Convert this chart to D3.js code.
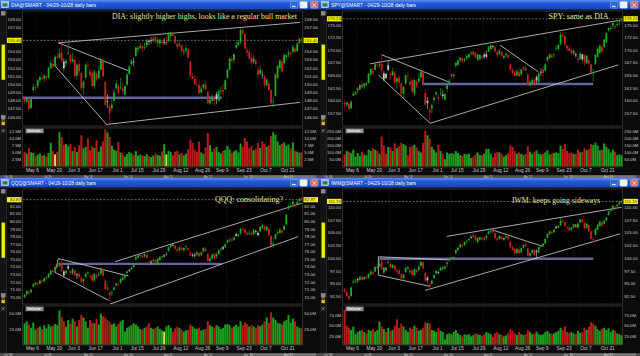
<!DOCTYPE html>
<html><head><meta charset="utf-8">
<script src="https://cdn.jsdelivr.net/npm/d3@7/dist/d3.min.js"></script>
<style>html,body{margin:0;padding:0;background:#000;overflow:hidden}svg{display:block}</style>
</head><body>
<svg id="chart" width="640" height="356"></svg>
<script>
// ---------- categories ----------
const firstDay = "2013-04-29", lastDay = "2013-10-28";
const holidays = ["2013-05-27","2013-07-04","2013-09-02"];
const tickDates = ["2013-05-06","2013-05-20","2013-06-03","2013-06-17","2013-07-01","2013-07-15","2013-07-29","2013-08-12","2013-08-26","2013-09-09","2013-09-23","2013-10-07","2013-10-21"];
const gridDates = ["2013-05-06","2013-05-28","2013-06-17","2013-07-08","2013-07-29","2013-08-19","2013-09-09","2013-09-30","2013-10-21"];
const symbols = ["DIA","SPY","QQQ","IWM"];
const titleSuffix = "@SMART - 04/29-10/28 daily bars";
const notes = ["DIA: slightly higher highs, looks like a regular bull market","SPY: same as DIA","QQQ: consolidating?","IWM: keeps going sideways"];

// ---------- price ticks ----------
const diaTicks = [146,147,148,149,150,151,152,153,154,155,156,157,158];
const spyTicks = [157.5,160,162.5,165,167.5,170,172.5,175];
const qqqTicks = [70,71,72,73,74,75,76,77,78,79,80,81,82];
const iwmTicks = [92.5,95,97.5,100,102.5,105,107.5,110];
const diaVolTicks = [2.5,5,7.5,10,12.5];
const spyVolTicks = [50,100,150,200,250];
const qqqVolTicks = [25,50];
const iwmVolTicks = [25,50,75];

// ---------- DIA [open, high, low, close] ----------
const diaOHLC = [
[148.2,148.5,147.6,147.9],[147.9,148.4,147.7,148.2],[148.1,148.2,146.8,147.0],[147.1,148.4,147.0,148.3],[149.3,150.1,149.2,149.7],
[149.7,149.9,149.3,149.6],[149.8,150.6,149.5,150.5],[150.5,151.0,150.2,150.9],[150.8,151.3,150.5,150.7],[150.7,151.2,150.3,151.1],
[151.0,151.1,150.4,150.8],[150.8,152.2,150.7,152.0],[152.0,152.9,151.9,152.6],[152.5,153.1,152.0,152.2],[152.3,153.6,152.2,153.4],
[153.4,154.0,153.0,153.3],[153.3,154.3,153.1,153.8],[153.9,155.2,152.6,152.9],[152.0,153.2,151.6,152.8],[152.6,153.1,152.2,152.9],
[153.8,155.1,153.6,153.9],[153.6,153.8,152.4,152.9],[152.8,153.9,152.7,153.1],[153.0,153.5,150.9,151.0],[151.1,152.6,150.6,152.4],
[152.5,153.0,151.0,151.6],[151.4,151.6,149.3,149.5],[149.6,150.5,148.7,150.3],[150.8,152.6,150.6,152.4],[152.4,152.9,151.9,152.3],
[151.6,152.0,150.8,151.1],[151.4,151.9,149.7,149.8],[149.8,151.8,149.4,151.6],[151.3,151.6,150.4,150.6],[150.8,152.3,150.7,151.7],
[151.8,153.3,151.7,153.0],[153.0,153.2,150.9,151.0],[150.3,150.4,147.3,147.5],[148.0,148.8,147.1,147.9],[147.3,147.6,145.1,146.5],
[147.1,148.2,146.7,147.5],[148.0,149.4,147.8,149.0],[149.5,150.6,149.4,150.1],[149.8,150.0,148.7,149.0],[149.5,150.8,149.4,149.6],
[149.5,150.2,148.8,149.2],[148.8,149.9,148.3,149.8],[150.0,151.4,149.8,151.2],[151.3,152.4,151.2,152.2],[152.5,153.1,152.3,152.9],
[152.8,153.3,152.2,152.8],[153.5,154.6,153.4,154.5],[154.3,154.7,153.9,154.5],[154.5,155.1,154.3,154.7],[154.7,154.9,154.0,154.4],
[154.5,155.1,154.2,154.6],[154.8,155.6,154.6,155.4],[155.2,155.5,154.8,155.3],[155.4,155.8,155.0,155.3],[155.4,155.9,155.2,155.6],
[155.8,156.0,155.0,155.3],[155.1,155.7,154.6,155.4],[155.0,155.6,154.5,155.5],[155.3,155.5,154.9,155.1],[155.2,155.7,154.8,155.1],
[155.3,156.0,154.8,154.9],[155.3,156.4,155.2,156.1],[155.9,156.5,155.5,156.4],[156.3,156.4,155.8,156.0],[155.9,156.0,154.9,155.1],
[155.0,155.3,154.3,154.6],[154.8,155.4,154.6,154.9],[154.8,154.9,153.9,154.1],[154.0,154.4,153.6,154.1],[154.2,154.9,153.8,154.4],
[154.3,154.5,153.2,153.3],[152.8,152.9,150.9,151.0],[151.0,151.4,150.6,150.7],[150.7,151.1,149.9,150.0],[150.0,150.9,149.8,149.9],
[149.9,150.5,148.8,148.9],[149.0,149.8,148.9,149.5],[149.6,150.1,149.3,150.0],[150.0,150.5,149.3,149.4],[149.1,149.3,147.6,147.7],
[147.7,148.6,147.5,148.1],[148.0,148.8,147.9,148.3],[148.4,148.6,147.4,148.0],[148.8,149.1,147.6,148.2],[148.0,149.4,147.9,149.2],
[149.3,149.8,148.8,149.3],[149.3,150.1,148.5,149.1],[149.4,150.6,149.3,150.5],[150.8,151.9,150.7,151.8],[151.8,153.3,151.7,153.2],
[153.1,153.4,152.7,152.9],[153.0,153.8,152.6,153.7],[154.5,155.2,154.3,154.8],[154.8,155.4,154.7,155.2],[155.2,156.9,154.9,156.7],
[156.6,156.9,156.0,156.3],[156.2,156.3,154.3,154.4],[154.2,154.6,153.4,153.9],[154.0,154.3,153.1,153.2],[153.3,153.8,152.4,152.6],
[152.7,153.6,152.5,153.2],[152.9,153.1,152.2,152.5],[151.8,152.2,150.8,151.2],[151.3,152.3,151.2,151.8],[151.2,151.7,150.7,151.2],
[151.0,151.2,149.6,149.9],[149.9,150.8,149.7,150.6],[150.1,150.4,149.2,149.3],[149.3,149.4,147.6,147.7],[147.9,148.4,147.2,147.9],
[148.6,151.3,148.5,151.2],[150.8,152.4,150.6,152.3],[152.0,153.1,151.9,152.9],[152.8,153.2,151.5,151.6],[152.6,153.8,152.4,153.6],
[153.3,153.7,152.9,153.6],[153.7,154.2,153.3,153.9],[153.9,154.0,153.4,153.8],[154.0,154.9,153.8,154.6],[154.4,154.6,153.8,154.0],
[154.1,155.2,154.0,155.0],[155.1,155.7,154.9,155.6],[155.5,155.8,155.1,155.4]];
const diaVol = [5.2,4.5,6.5,5.0,4.8,3.6,4.2,4.6,3.8,4.0,3.5,4.8,8.5,5.5,4.3,5.2,12.3,10.5,7.8,8.0,
7.2,8.0,5.5,7.0,5.2,7.6,11.2,6.5,7.0,10.0,5.8,7.2,6.6,9.4,5.2,7.2,9.0,13.3,12.2,10.6,
7.4,6.0,5.6,8.8,5.0,4.6,3.5,4.4,5.2,4.7,4.1,5.5,3.8,4.2,3.9,3.7,4.4,3.6,3.3,3.9,
4.6,4.1,3.8,5.4,8.0,4.3,5.6,5.1,4.0,5.3,5.6,4.3,4.8,3.9,4.5,6.2,9.6,8.4,6.0,5.2,
8.9,5.0,4.4,6.8,12.0,7.6,5.2,6.4,7.0,5.1,4.6,5.5,5.9,7.4,6.1,4.9,5.4,5.8,5.0,8.2,
7.0,10.2,8.9,6.5,7.3,5.8,6.3,8.4,6.6,9.0,8.2,7.1,7.6,11.0,12.3,11.4,9.0,7.6,8.2,8.6,
7.4,7.9,6.4,8.6,5.6,5.3,4.8,5.2];
const diaYellow = ["2013-05-17","2013-07-31"];

// ---------- SPY [open, high, low, close] ----------
const spyOHLC = [
[159.5,160.0,158.4,159.3],[159.2,159.8,158.7,159.7],[159.4,159.6,158.2,158.3],[158.5,160.0,158.3,159.8],[161.0,161.9,160.9,161.4],
[161.4,161.9,161.1,161.7],[162.0,162.6,161.3,162.4],[162.2,163.2,162.1,163.1],[163.2,163.8,162.5,162.6],[162.8,163.5,162.3,163.4],
[163.1,163.7,162.9,163.4],[163.5,165.5,163.4,165.4],[165.2,166.4,164.8,166.3],[165.9,166.5,165.1,165.4],[166.1,167.3,166.0,167.2],
[167.1,167.8,166.6,166.9],[167.0,167.9,166.4,167.2],[167.3,169.1,165.1,165.9],[164.2,165.9,163.8,165.4],[164.5,165.5,164.2,165.3],
[167.0,167.8,165.9,166.1],[165.3,165.6,164.1,165.1],[165.0,166.5,164.9,165.8],[165.5,165.9,163.4,163.5],[163.8,164.6,162.3,164.4],
[164.6,165.1,162.7,163.6],[163.4,163.6,160.8,161.3],[161.4,162.9,160.3,162.7],[163.4,165.2,163.1,165.0],[165.0,165.7,164.2,164.9],
[163.7,164.4,162.9,163.2],[164.0,164.5,161.6,161.8],[161.4,164.4,160.9,164.1],[163.7,164.2,162.4,162.9],[163.8,165.4,163.5,164.4],
[164.6,166.1,164.5,165.7],[165.6,166.0,163.1,163.2],[161.5,162.2,159.0,159.2],[160.0,160.7,158.3,159.5],[158.1,158.8,155.7,157.6],
[158.4,159.4,157.5,159.1],[160.1,160.8,159.5,160.6],[161.3,161.9,160.8,161.6],[160.7,161.2,159.8,160.4],[161.3,162.5,161.0,161.4],
[160.9,162.2,160.4,161.2],[160.2,161.5,160.0,161.3],[162.3,163.3,161.6,163.0],[164.0,164.3,163.3,164.0],[165.0,165.4,164.3,165.2],
[164.9,165.4,164.4,165.2],[166.9,167.6,166.5,167.5],[167.1,168.1,167.0,168.0],[168.0,168.6,167.7,168.5],[168.4,168.6,167.5,167.8],
[168.0,168.5,167.6,168.2],[168.4,169.1,168.0,168.9],[168.6,169.3,168.4,169.2],[169.4,169.8,169.0,169.5],[169.8,169.9,168.9,169.1],
[169.5,169.6,168.4,168.7],[168.1,169.3,167.8,169.1],[168.2,169.2,167.9,169.1],[168.7,169.0,168.2,168.6],[169.1,169.6,168.3,168.7],
[169.2,169.9,168.5,168.7],[169.7,170.8,169.6,170.7],[170.2,171.1,170.0,171.0],[170.7,171.0,170.3,170.8],[170.6,170.7,169.4,169.8],
[169.7,170.0,168.7,169.0],[169.3,170.2,169.1,169.9],[169.6,169.9,168.7,168.9],[168.5,169.0,168.2,168.9],[169.0,169.6,168.5,169.3],
[169.0,169.2,168.3,168.6],[167.2,167.3,166.0,166.1],[166.1,166.5,165.3,165.4],[165.6,166.0,164.8,164.9],[165.0,166.3,164.9,165.8],
[165.6,166.6,164.7,164.8],[165.2,166.3,164.9,166.2],[166.4,166.8,165.9,166.6],[166.5,167.2,165.8,165.9],[165.2,165.4,162.9,163.0],
[163.0,164.2,162.8,163.6],[163.5,164.6,163.3,164.0],[164.2,164.3,162.8,163.3],[164.7,165.0,163.4,164.0],[163.7,165.5,163.5,165.4],
[165.7,166.4,164.9,165.6],[166.2,166.8,164.6,165.5],[165.9,167.4,165.8,167.2],[168.0,168.8,167.7,168.6],[168.4,169.3,168.3,169.2],
[169.0,169.3,168.4,168.6],[169.1,169.4,168.4,169.2],[170.3,170.9,170.0,170.3],[170.2,171.2,170.1,171.1],[171.2,173.6,170.9,173.1],
[173.1,173.6,172.4,172.8],[172.8,172.9,170.8,171.1],[170.9,171.0,169.7,170.3],[170.5,171.0,169.7,169.9],[170.0,170.4,169.2,169.4],
[169.3,170.3,169.1,169.9],[169.0,169.5,168.5,169.2],[168.3,168.9,167.4,168.0],[168.2,169.6,168.1,169.3],[168.2,169.3,167.8,169.2],
[169.0,169.2,166.8,167.6],[167.4,169.1,167.2,168.9],[168.0,168.3,167.2,167.4],[167.2,167.3,165.5,165.5],[165.6,166.3,163.7,165.6],
[167.3,169.2,167.1,169.1],[168.7,170.6,168.5,170.3],[169.5,171.1,169.3,170.9],[170.6,171.1,169.6,169.7],[170.7,172.2,170.4,172.1],
[171.5,173.5,171.5,173.4],[174.0,174.5,173.6,174.4],[174.4,174.8,173.9,174.4],[174.9,175.7,174.2,175.4],[174.8,175.1,174.2,174.6],
[175.0,175.6,174.5,175.2],[175.6,176.1,175.0,176.0],[176.0,176.3,175.7,176.23]];
const spyVol = [85,110,105,95,120,70,95,75,105,85,80,120,110,130,120,110,90,215,150,90,
140,135,110,165,130,145,170,160,150,80,140,145,155,135,110,100,170,255,225,200,
140,120,100,155,110,90,50,100,90,95,90,110,95,80,75,90,85,90,60,70,
85,100,80,80,90,125,125,90,65,95,105,100,90,70,80,95,150,140,110,90,
100,90,80,90,145,105,90,105,115,90,85,90,100,115,85,90,95,100,95,150,
125,160,110,95,100,90,90,120,100,105,130,115,125,160,155,170,150,115,120,165,
140,125,100,120,105,80,85,80];
const spyYellow = [];

// ---------- QQQ [open, high, low, close] ----------
const qqqOHLC = [
[70.0,70.5,69.9,70.3],[70.4,70.9,70.2,70.8],[70.7,70.9,70.3,70.5],[70.7,71.1,70.5,71.0],[71.4,71.9,71.3,71.7],
[71.7,72.0,71.5,71.9],[71.9,72.1,71.5,71.8],[71.8,72.3,71.7,72.2],[72.2,72.4,71.9,72.1],[72.1,72.6,72.0,72.5],
[72.5,72.8,72.3,72.6],[72.6,73.2,72.5,73.1],[73.0,73.6,72.9,73.5],[73.5,73.7,73.1,73.3],[73.5,74.1,73.4,74.0],
[74.0,74.4,73.9,74.2],[74.2,74.6,74.0,74.3],[74.5,75.0,73.3,73.5],[72.9,73.6,72.7,73.4],[73.2,73.6,73.0,73.5],
[74.1,74.3,73.6,73.8],[73.4,73.6,73.0,73.2],[73.1,73.9,73.0,73.7],[73.5,73.7,72.8,72.9],[73.0,73.2,72.4,72.9],
[73.1,73.3,72.5,72.7],[72.6,72.7,71.8,72.0],[72.1,72.5,71.6,72.4],[72.7,73.2,72.5,73.1],[73.2,73.5,72.9,73.3],
[72.8,73.0,72.5,72.7],[72.9,73.1,72.1,72.2],[72.2,73.2,72.0,73.1],[72.9,73.1,72.5,72.6],[72.9,73.3,72.8,73.0],
[73.1,73.9,73.0,73.8],[73.7,73.9,72.8,72.8],[72.2,72.4,71.0,71.1],[71.4,71.8,70.8,71.0],[70.6,70.8,69.5,70.3],
[70.6,70.9,70.2,70.7],[71.0,71.4,70.8,71.3],[71.6,71.9,71.4,71.8],[71.7,71.9,71.4,71.6],[71.9,72.6,71.8,72.4],
[72.3,72.9,72.1,72.6],[72.6,73.0,72.3,72.9],[73.2,73.5,72.9,73.4],[73.6,73.8,73.3,73.5],[73.7,74.0,73.6,73.9],
[74.0,74.5,73.8,74.4],[75.0,75.4,74.9,75.3],[75.2,75.6,75.1,75.5],[75.5,75.8,75.3,75.6],[75.5,75.6,75.1,75.3],
[75.4,75.8,75.2,75.7],[75.6,75.7,75.0,75.2],[74.6,74.9,74.2,74.4],[74.7,74.9,74.3,74.6],[74.8,75.1,74.5,74.9],
[74.9,75.0,74.4,74.6],[74.3,75.2,74.2,75.1],[74.9,75.4,74.8,75.3],[75.3,75.5,75.0,75.4],[75.5,75.7,75.2,75.4],
[75.6,76.0,75.4,75.7],[76.1,76.7,76.0,76.6],[76.6,77.1,76.5,77.0],[76.9,77.1,76.7,76.9],[76.8,76.9,76.2,76.4],
[76.3,76.5,75.9,76.1],[76.2,76.7,76.1,76.6],[76.5,76.7,76.1,76.3],[76.2,76.6,76.0,76.5],[76.6,76.9,76.3,76.7],
[76.5,76.6,76.1,76.3],[75.9,76.0,75.4,75.5],[75.6,75.8,75.3,75.5],[75.6,75.9,75.2,75.5],[75.6,76.1,75.5,75.9],
[75.8,76.0,75.3,75.4],[75.6,76.0,75.4,75.9],[76.0,76.6,75.9,76.5],[76.4,76.7,76.0,76.1],[75.7,75.8,74.7,74.8],
[74.8,75.3,74.6,75.1],[75.1,75.8,75.0,75.6],[75.7,75.8,75.0,75.1],[75.4,75.9,75.1,75.7],[75.7,76.3,75.6,76.2],
[76.3,76.6,76.1,76.4],[76.6,76.8,76.2,76.4],[76.6,77.1,76.5,77.0],[77.2,77.6,77.1,77.5],[77.5,77.8,77.3,77.6],
[77.6,77.8,77.3,77.5],[77.6,78.0,77.4,77.9],[78.3,78.5,78.0,78.1],[78.1,78.4,77.9,78.3],[78.4,79.2,78.2,79.0],
[79.0,79.3,78.7,78.9],[78.9,79.0,78.3,78.5],[78.5,78.7,78.1,78.3],[78.4,78.8,78.2,78.5],[78.5,78.7,78.1,78.3],
[78.3,79.0,78.2,78.9],[78.6,78.9,78.4,78.7],[78.2,78.7,78.0,78.5],[78.7,79.4,78.6,79.3],[79.2,79.7,79.0,79.5],
[79.4,79.5,78.7,78.9],[78.8,79.4,78.7,79.3],[79.0,79.1,78.1,78.2],[78.1,78.2,76.8,76.8],[76.9,77.4,76.5,77.1],
[77.7,78.4,77.6,78.3],[78.4,78.8,78.2,78.6],[78.5,79.1,78.4,78.9],[78.8,79.0,78.4,78.5],[78.9,79.5,78.8,79.4],
[79.6,80.9,79.5,80.9],[81.7,82.2,81.5,82.0],[82.0,82.4,81.8,82.0],[82.3,82.8,81.9,82.6],[82.3,82.5,81.8,82.1],
[82.3,82.8,82.1,82.6],[82.7,83.1,82.5,83.0],[83.0,83.2,82.7,82.87]];
const qqqVol = [35,38,33,28,36,25,28,30,26,32,27,33,30,31,34,32,55,45,38,30,
40,34,42,38,30,40,48,44,38,28,40,36,35,42,33,50,46,44,40,37,
33,35,30,34,38,40,22,28,30,32,35,33,30,26,25,28,30,35,28,26,
28,30,26,24,22,30,32,28,22,27,30,28,25,22,24,25,33,30,27,26,
28,24,25,26,38,32,30,28,32,30,26,28,33,34,32,28,30,33,30,38,
32,36,34,30,32,30,28,32,30,33,38,44,36,52,44,40,36,35,33,38,
40,48,36,42,38,30,28,27];
const qqqYellow = ["2013-07-30"];

// ---------- IWM [open, high, low, close] ----------
const iwmOHLC = [
[93.9,94.2,93.2,93.5],[93.4,93.6,92.4,92.6],[92.6,92.9,91.7,92.1],[92.6,94.5,92.5,94.3],[95.2,95.9,95.0,95.4],
[95.4,95.9,95.1,95.6],[95.9,96.2,95.2,95.7],[95.8,96.5,95.6,96.4],[96.3,96.6,95.6,95.8],[95.9,96.5,95.7,96.3],
[96.3,96.6,95.9,96.1],[96.2,97.0,96.0,96.9],[96.8,97.6,96.6,97.4],[97.3,97.6,96.8,97.0],[97.4,98.4,97.3,98.3],
[98.2,98.9,98.0,98.3],[98.4,100.1,98.3,98.9],[99.3,99.9,97.6,97.9],[97.2,98.3,96.9,98.2],[97.8,98.3,97.5,98.0],
[99.2,99.8,98.9,99.3],[98.9,99.1,98.0,98.2],[98.1,98.9,98.0,98.7],[98.5,98.8,97.6,97.8],[97.7,98.1,96.8,97.5],
[97.6,98.2,96.8,97.0],[96.9,97.1,95.9,96.1],[96.1,96.9,95.6,96.8],[97.3,98.2,97.1,98.1],[98.0,98.6,97.8,98.3],
[97.6,97.9,97.0,97.2],[97.6,97.8,96.6,96.7],[96.7,98.0,96.5,97.9],[97.7,97.9,97.0,97.3],[97.7,98.6,97.6,98.4],
[98.5,99.5,98.4,99.3],[99.2,99.4,97.9,98.0],[97.1,97.3,95.5,95.6],[96.2,96.6,95.2,95.7],[94.9,95.1,93.8,94.4],
[95.0,95.8,94.8,95.6],[96.1,96.8,95.9,96.7],[97.0,97.6,96.8,97.5],[97.3,97.6,96.8,97.3],[97.6,98.4,97.5,98.1],
[97.9,98.6,97.6,98.2],[98.0,98.6,97.8,98.4],[98.9,99.3,98.3,99.2],[99.6,99.8,99.3,99.6],[100.0,100.3,99.8,100.2],
[100.0,100.4,99.7,100.2],[101.0,101.7,100.9,101.6],[101.6,102.2,101.5,102.1],[102.2,102.9,102.0,102.7],[102.6,102.8,102.1,102.4],
[102.6,103.3,102.4,103.2],[103.2,103.6,102.9,103.3],[103.6,104.0,103.3,103.8],[104.2,104.5,103.8,104.1],[104.4,104.8,104.0,104.4],
[104.4,104.6,103.4,103.6],[103.2,104.1,102.9,104.0],[103.7,104.3,103.4,104.1],[104.0,104.3,103.5,103.8],[104.0,104.3,103.3,103.6],
[104.0,104.7,103.5,104.4],[104.8,105.4,104.6,105.3],[105.2,105.6,104.8,105.4],[105.3,105.5,104.8,105.1],[104.9,105.0,103.8,104.0],
[103.9,104.2,103.2,103.6],[103.8,104.5,103.6,104.4],[104.2,104.4,103.6,103.8],[103.6,104.2,103.4,104.0],[104.1,104.6,103.8,104.3],
[104.3,104.5,103.6,103.8],[103.2,103.3,102.0,102.1],[102.2,102.5,101.5,101.6],[101.8,102.1,100.8,100.9],[101.0,102.0,100.9,101.8],
[101.7,102.3,100.8,101.0],[101.2,102.1,101.0,102.0],[102.1,102.8,101.9,102.6],[102.7,103.6,102.3,102.4],[101.9,102.1,100.4,100.5],
[100.5,101.3,100.3,101.0],[101.1,101.8,100.9,101.6],[101.7,101.8,100.4,100.6],[101.4,101.8,100.1,101.2],[101.1,102.3,101.0,102.2],
[102.4,102.8,102.1,102.5],[102.7,103.0,102.2,102.6],[102.9,103.9,102.8,103.8],[104.0,104.9,103.9,104.8],[104.8,105.4,104.6,105.3],
[105.2,105.5,104.8,105.0],[105.1,105.7,104.9,105.6],[106.2,106.4,105.7,106.0],[106.0,106.5,105.9,106.4],[106.5,107.9,106.3,107.4],
[107.4,107.8,106.9,107.2],[107.1,107.2,106.1,106.3],[106.1,106.3,105.6,106.0],[106.1,106.3,105.3,105.5],[105.6,106.2,105.4,106.0],
[106.0,106.8,105.9,106.7],[106.4,106.7,106.0,106.5],[106.0,107.0,105.8,106.8],[107.0,107.7,106.9,107.6],[107.6,107.8,106.9,107.1],
[107.0,107.2,105.7,105.9],[106.0,106.9,105.8,106.8],[106.5,106.6,105.2,105.3],[105.3,105.4,103.7,103.8],[103.8,104.3,103.1,103.7],
[104.6,105.9,104.5,105.8],[105.6,106.7,105.5,106.6],[106.3,107.3,106.2,107.2],[107.0,107.3,106.3,106.4],[106.8,107.5,106.7,107.4],
[107.4,108.1,107.2,108.0],[108.5,109.3,108.4,109.2],[109.3,109.6,109.0,109.4],[109.6,110.4,109.3,110.3],[110.1,110.3,109.5,110.0],
[110.2,110.6,109.9,110.5],[110.6,111.2,110.4,111.0],[111.0,111.4,110.8,111.15]];
const iwmVol = [87,50,45,40,48,30,35,38,40,35,32,40,38,42,36,40,60,48,42,35,
45,38,40,50,65,45,55,48,40,35,45,42,50,45,38,40,45,58,56,55,
40,38,35,45,38,35,18,30,32,30,35,40,32,28,25,30,28,30,25,28,
32,30,28,26,30,35,33,30,24,32,35,30,28,25,27,32,42,38,32,28,
35,30,28,30,40,35,30,32,36,30,28,30,35,38,32,30,32,35,38,45,
40,48,35,33,35,32,30,38,33,35,45,40,48,58,55,50,42,38,42,45,
40,44,35,40,38,32,30,28];
const iwmYellow = [];

// ---------- analyst lines: [dayIndex1, price1, dayIndex2, price2] ----------
const diaLines = [[15.5,155.1,126.3,157.6],[37.9,145.1,126.3,147.8],[15.5,155.1,48.3,151.6],[13.2,152.5,37.9,145.0]];
const spyLines = [[11.7,167.3,125.5,175.9],[39.2,155.5,125.5,167.1],[17.0,169.1,48.3,163.6],[15.5,165.1,39.2,155.5],[71.3,171.0,88.8,165.7]];
const qqqLines = [[41.5,74.7,127.0,82.4],[39.2,69.1,125.5,78.0],[15.5,75.1,47.6,72.8],[13.9,73.3,38.4,69.6],[15.5,75.1,13.9,73.3]];
const iwmLines = [[46.8,104.3,127.0,110.0],[36.9,93.7,126.3,104.8],[15.5,100.3,47.6,99.7],[15.5,96.7,39.2,94.5],[15.5,100.3,15.5,96.7],[67.5,105.6,90.4,102.4]];
// horizontal support: [fromIndex, price, toIndex]
const diaSupport = [-0.9,148.37,90.4];
const spySupport = [35.4,163.3,114.0];
const qqqSupport = [15.5,74.4,90.4];
const iwmSupport = [16.2,99.9,114.0];

// ---------- scale settings ----------
const priceDomains = [[144.9,159.0],[154.96,177.78],[69.11,84.28],[91.04,113.59]];
const volMax = [13.84,276.8,62.0,96.1];
const volBase = [166.2,166.2,167.7,169.0];

const panels = [
  {sym:symbols[0],ohlc:diaOHLC,vol:diaVol,yellow:diaYellow,ticks:diaTicks,vticks:diaVolTicks,lines:diaLines,sup:diaSupport,note:notes[0]},
  {sym:symbols[1],ohlc:spyOHLC,vol:spyVol,yellow:spyYellow,ticks:spyTicks,vticks:spyVolTicks,lines:spyLines,sup:spySupport,note:notes[1]},
  {sym:symbols[2],ohlc:qqqOHLC,vol:qqqVol,yellow:qqqYellow,ticks:qqqTicks,vticks:qqqVolTicks,lines:qqqLines,sup:qqqSupport,note:notes[2]},
  {sym:symbols[3],ohlc:iwmOHLC,vol:iwmVol,yellow:iwmYellow,ticks:iwmTicks,vticks:iwmVolTicks,lines:iwmLines,sup:iwmSupport,note:notes[3]}
];
// note layout (x, baseline, width, font size)
const noteLayout = [[112,19.2,185,7.8],[228.5,18.6,60,8.0],[215,24.2,68,8.0],[192,24.8,88,7.7]];

// ---------- build ----------
const fmtDay = d3.utcFormat("%Y-%m-%d");
const parse = d3.utcParse("%Y-%m-%d");
const days = d3.utcDay.range(parse(firstDay), d3.utcDay.offset(parse(lastDay),1))
  .filter(d => d.getUTCDay()%6 !== 0 && !holidays.includes(fmtDay(d))).map(fmtDay);
const fmtTick = d3.utcFormat("%b %-d");

const svg = d3.select("#chart");
const defs = svg.append("defs");
const grad = defs.append("linearGradient").attr("id","tb").attr("x1",0).attr("y1",0).attr("x2",0).attr("y2",1);
grad.append("stop").attr("offset","0%").attr("stop-color","#5a8ff0");
grad.append("stop").attr("offset","35%").attr("stop-color","#2159d8");
grad.append("stop").attr("offset","100%").attr("stop-color","#1744b8");

const offsets = [[0,0],[320,0],[0,178],[320,178]];
const FONT = "Liberation Sans, Arial, sans-serif";
const GREEN="#1fae1f", RED="#d01e1e", GRAY="#c4c4c4";
const VGREEN="#1e9e1e", VRED="#b81a1a", VYEL="#e6df3a";

panels.forEach((P,k)=>{
  const g = svg.append("g").attr("transform",`translate(${offsets[k][0]},${offsets[k][1]})`);
  drawPanel(g,P,k);
});

function drawPanel(g,P,k){
  const PL=22.7, PR=302.7, PT=11, PB=126, VT=128, VB=166.5;
  g.append("rect").attr("width",320).attr("height",178).attr("fill","#0b0b0b");
  // title bar
  g.append("rect").attr("width",320).attr("height",9.5).attr("fill","url(#tb)");
  g.append("rect").attr("x",1.5).attr("y",1.6).attr("width",7).attr("height",6).attr("fill","#9cc4f2").attr("stroke","#e8f2ff").attr("stroke-width",0.5);
  g.append("rect").attr("x",2.6).attr("y",3.3).attr("width",4.8).attr("height",3.2).attr("fill","#3a7a3a");
  g.append("text").attr("x",11).attr("y",7.0).attr("font-family",FONT).attr("font-size",5.2)
    .attr("fill","#ffffff").attr("textLength",85).attr("lengthAdjust","spacingAndGlyphs").text(P.sym+titleSuffix);
  // window buttons
  g.append("rect").attr("x",290.5).attr("y",1.4).attr("width",7.5).attr("height",6.8).attr("rx",1).attr("fill","#2b63dc").attr("stroke","#bcd0f4").attr("stroke-width",0.4);
  g.append("rect").attr("x",292).attr("y",5.9).attr("width",3.6).attr("height",1).attr("fill","#fff");
  g.append("rect").attr("x",299.8).attr("y",1.4).attr("width",7.5).attr("height",6.8).attr("rx",1).attr("fill","#eef2fa").attr("stroke","#bcd0f4").attr("stroke-width",0.4);
  g.append("rect").attr("x",310.5).attr("y",1.4).attr("width",7.5).attr("height",6.8).attr("rx",1).attr("fill","#d26a6a").attr("stroke","#f0d0d0").attr("stroke-width",0.4);
  g.append("path").attr("d","M312.3,3.2L316.2,7M316.2,3.2L312.3,7").attr("stroke","#fbe4e4").attr("stroke-width",0.9);

  // left toolbar
  g.append("rect").attr("x",0).attr("y",9.5).attr("width",6.5).attr("height",166).attr("fill","#141414");
  g.append("line").attr("x1",6.5).attr("x2",6.5).attr("y1",9.5).attr("y2",175).attr("stroke","#3a3a3a").attr("stroke-width",0.5);
  g.append("rect").attr("x",1.3).attr("y",11.5).attr("width",3.8).attr("height",3.6).attr("fill","#8a8a8a").attr("stroke","#cfcfcf").attr("stroke-width",0.3);
  g.append("rect").attr("x",1.6).attr("y",44.8).attr("width",3.4).attr("height",35).attr("fill","#eeee10").attr("stroke","#9a9a60").attr("stroke-width",0.3);
  g.append("rect").attr("x",1.3).attr("y",115.5).attr("width",3.8).attr("height",3.6).attr("fill","#8a8a8a").attr("stroke","#cfcfcf").attr("stroke-width",0.3);
  g.append("rect").attr("x",1.5).attr("y",122).attr("width",3.4).attr("height",3.2).attr("fill","#e2c020");
  g.append("path").attr("d","M2.2,122V120.6A1,1 0 0 1 4.2,120.6V122").attr("fill","none").attr("stroke","#e2c020").attr("stroke-width",0.6);
  g.append("path").attr("d","M1.5,129L4.7,132.4M4.7,129L1.5,132.4").attr("stroke","#bbbbbb").attr("stroke-width",0.6);

  // plot areas
  g.append("rect").attr("x",PL).attr("y",PT).attr("width",PR-PL).attr("height",PB-PT).attr("fill","#000").attr("stroke","#4a4a4a").attr("stroke-width",0.6);
  g.append("rect").attr("x",PL).attr("y",VT).attr("width",PR-PL).attr("height",VB-VT).attr("fill","#000").attr("stroke","#4a4a4a").attr("stroke-width",0.6);

  const cp = "cp"+k, cv="cv"+k;
  defs.append("clipPath").attr("id",cp).append("rect").attr("x",PL).attr("y",PT).attr("width",PR-PL).attr("height",PB-PT);
  defs.append("clipPath").attr("id",cv).append("rect").attr("x",PL).attr("y",VT).attr("width",PR-PL).attr("height",VB-VT);

  const x = d3.scaleBand().domain(days).range([23.5,302.7]).paddingInner(0.2).paddingOuter(0.1);
  const bw = x.bandwidth();
  const cx = d => x(d)+bw/2;
  const xi = d3.scaleLinear().domain([0,days.length-1]).range([cx(days[0]),cx(days[days.length-1])]);
  const y = d3.scaleLinear().domain(priceDomains[k]).range([PB,PT]);
  const yv = d3.scaleLinear().domain([0,volMax[k]]).range([volBase[k],VT]);

  const data = P.ohlc.map((r,i)=>({d:days[i],o:r[0],h:r[1],l:r[2],c:r[3],v:P.vol[i],pc:i?P.ohlc[i-1][3]:r[0]}));
  const col = d => (d.c>=d.pc && d.c>=d.o) ? GREEN : (d.c<d.pc && d.c<d.o) ? RED : GRAY;

  const gp = g.append("g").attr("clip-path",`url(#${cp})`);
  const gv = g.append("g").attr("clip-path",`url(#${cv})`);

  // grid
  gp.selectAll(".vg").data(gridDates).join("line").attr("x1",d=>cx(d)+1.2).attr("x2",d=>cx(d)+1.2).attr("y1",PT).attr("y2",PB)
    .attr("stroke","#2e2e2e").attr("stroke-width",0.6).attr("stroke-dasharray","1,1.5");
  gv.selectAll(".vg").data(gridDates).join("line").attr("x1",d=>cx(d)+1.2).attr("x2",d=>cx(d)+1.2).attr("y1",VT).attr("y2",VB)
    .attr("stroke","#2e2e2e").attr("stroke-width",0.6).attr("stroke-dasharray","1,1.5");
  gp.selectAll(".hg").data(P.ticks).join("line").attr("x1",PL).attr("x2",PR).attr("y1",d=>y(d)).attr("y2",d=>y(d))
    .attr("stroke","#1f1f1f").attr("stroke-width",0.5).attr("stroke-dasharray","1,1.5");

  // support line
  gp.append("line").attr("x1",xi(P.sup[0])).attr("x2",xi(P.sup[2])).attr("y1",y(P.sup[1])).attr("y2",y(P.sup[1]))
    .attr("stroke","#6a6aa8").attr("stroke-width",2.4).attr("opacity",0.95);
  // trend lines
  gp.selectAll(".tl").data(P.lines).join("line")
    .attr("x1",d=>xi(d[0])).attr("y1",d=>y(d[1])).attr("x2",d=>xi(d[2])).attr("y2",d=>y(d[3]))
    .attr("stroke","#d4d4d4").attr("stroke-width",0.8);

  // current price dashed line
  const last = data[data.length-1].c;
  gp.append("line").attr("x1",PL).attr("x2",PR).attr("y1",y(last)).attr("y2",y(last))
    .attr("stroke","#a8a8a8").attr("stroke-width",0.6).attr("stroke-dasharray","2,1.5");

  // candles
  gp.selectAll(".wk").data(data).join("line").attr("x1",d=>cx(d.d)).attr("x2",d=>cx(d.d))
    .attr("y1",d=>y(d.h)).attr("y2",d=>y(d.l)).attr("stroke",col).attr("stroke-width",0.6);
  gp.selectAll(".bd").data(data).join("rect").attr("x",d=>x(d.d)).attr("width",bw)
    .attr("y",d=>y(Math.max(d.o,d.c))).attr("height",d=>Math.max(0.7,Math.abs(y(d.o)-y(d.c)))).attr("fill",col);

  // volume
  gv.selectAll(".vb").data(data).join("rect").attr("x",d=>x(d.d)-0.15).attr("width",bw+0.3)
    .attr("y",d=>yv(d.v)).attr("height",d=>Math.max(0,volBase[k]-yv(d.v)))
    .attr("fill",d=>P.yellow.includes(d.d)?VYEL:(d.c>=d.pc?VGREEN:VRED));
  g.append("rect").attr("x",25.6).attr("y",128.6).attr("width",18).attr("height",4.6).attr("fill","#8e8e8e");
  g.append("text").attr("x",27.3).attr("y",132.2).attr("font-family",FONT).attr("font-size",3.8).attr("font-weight","bold")
    .attr("fill","#f4f4f4").text("Volume");

  // price labels (the one hidden by the last-price box is skipped)
  const pf = d3.format(".2f");
  const shown = P.ticks.filter(t => Math.abs(y(t)-y(last)) >= 5.4);
  [[21,"end"],[304.3,"start"]].forEach(([lx,anc])=>{
    g.selectAll(null).data(shown).join("text").attr("x",lx).attr("y",d=>y(d)+1.5).attr("text-anchor",anc)
      .attr("font-family",FONT).attr("font-size",4.4).attr("fill","#c8c8c8").text(d=>pf(d));
    g.selectAll(null).data(P.vticks).join("text").attr("x",lx).attr("y",d=>yv(d)+1.5).attr("text-anchor",anc)
      .attr("font-family",FONT).attr("font-size",4.2).attr("fill","#c8c8c8").text(d=>d3.format(".1f")(d)+"M");
  });
  // last price highlight
  [[7,21.5],[303.5,318]].forEach(([a,b],j)=>{
    g.append("rect").attr("x",a).attr("y",y(last)-2.6).attr("width",b-a).attr("height",5.2).attr("fill","#f4f10a");
    g.append("text").attr("x",j?a+0.8:b-0.5).attr("y",y(last)+1.5).attr("text-anchor",j?"start":"end")
      .attr("font-family",FONT).attr("font-size",4.4).attr("fill","#3a3a20").text(pf(last));
  });

  // date axis
  g.append("line").attr("x1",PL).attr("x2",PR).attr("y1",167.3).attr("y2",167.3).attr("stroke","#333").attr("stroke-width",0.5);
  g.selectAll(".dl").data(tickDates).join("text").attr("x",d=>cx(d)-3).attr("y",172.4).attr("text-anchor","middle")
    .attr("font-family",FONT).attr("font-size",4.8).attr("fill","#c8c8c8").text(d=>fmtTick(parse(d)));

  // navigator strip
  g.append("rect").attr("x",0).attr("y",175.2).attr("width",320).attr("height",2.8).attr("fill","#505050");
  g.append("rect").attr("x",250).attr("y",175.4).attr("width",66).attr("height",2.4).attr("fill","#7a7a7a");
  const nav = ["Oct '08","Jul '09","Mar '10","Dec '10","Aug '11","Apr '12","Dec '12","Aug '13"];
  g.selectAll(".nv").data(nav).join("text").attr("x",(d,i)=>4+i*40).attr("y",177.8).attr("font-family",FONT)
    .attr("font-size",2.6).attr("fill","#d8d8d8").text(d=>d);

  // note
  const nl = noteLayout[k];
  g.append("text").attr("x",nl[0]).attr("y",nl[1]).attr("font-family","Liberation Serif, Times New Roman, serif")
    .attr("font-size",nl[3]).attr("fill","#e8e49a").attr("textLength",nl[2]).attr("lengthAdjust","spacingAndGlyphs").text(P.note);
}
</script>
</body></html>
